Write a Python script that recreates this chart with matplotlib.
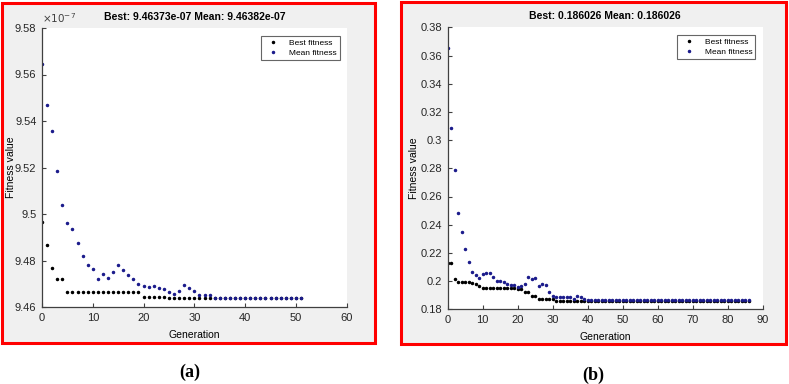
import matplotlib.pyplot as plt
from matplotlib.patches import Rectangle
from matplotlib.ticker import FormatStrFormatter

# panel (a): fitness values in units of 1e-7
gen_a = list(range(52))
best_a = [9.4964, 9.4867, 9.4766, 9.4719, 9.4719] + [9.4663] * 15 + [9.4643] * 5 + [9.4637] * 27
mean_a = [9.5645, 9.5468, 9.5357, 9.5184, 9.5039, 9.4960, 9.4934, 9.4874, 9.4819, 9.4781,
          9.4765, 9.4719, 9.4742, 9.4726, 9.4749, 9.4781, 9.4759, 9.4736, 9.4719, 9.4700,
          9.4690, 9.4685, 9.4692, 9.4680, 9.4679, 9.4663, 9.4657, 9.4670, 9.4695, 9.4680,
          9.4669, 9.4653, 9.4653, 9.4653] + [9.4640] * 18
title_a = "Best: 9.46373e-07 Mean: 9.46382e-07"

# panel (b)
gen_b = list(range(87))
best_b = [0.2130, 0.2130, 0.2015, 0.1995, 0.1995, 0.1995, 0.1995, 0.1988, 0.1982, 0.1968,
          0.1953] + [0.1949] * 9 + [0.1944, 0.1944, 0.1925, 0.1923, 0.1894, 0.1894,
          0.1873, 0.1873, 0.1873, 0.1873, 0.1873] + [0.1862] * 56
mean_b = [0.3655, 0.3086, 0.2790, 0.2485, 0.2346, 0.2225, 0.2133, 0.2065, 0.2041, 0.2024,
          0.2048, 0.2057, 0.2057, 0.2031, 0.2003, 0.2003, 0.1996, 0.1977, 0.1972, 0.1970,
          0.1956, 0.1967, 0.1977, 0.2027, 0.2015, 0.2020, 0.1967, 0.1979, 0.1972, 0.1925,
          0.1897, 0.1889, 0.1885, 0.1885, 0.1885, 0.1885, 0.1873, 0.1894, 0.1885, 0.1870] + [0.1866] * 47
title_b = "Best: 0.186026 Mean: 0.186026"

W, H = 789, 384
plt.rcParams["font.family"] = ["Liberation Sans", "DejaVu Sans"]

fig = plt.figure(figsize=(W / 100, H / 100), dpi=100)
fig.patch.set_facecolor("white")


def px_box(x0, y0, x1, y1):
    return [x0 / W, 1 - y1 / H, (x1 - x0) / W, (y1 - y0) / H]


# red frames with matlab grey background
for x0, y0, x1, y1 in [(2, 3, 375, 343), (401, 2, 786, 344)]:
    fig.add_artist(Rectangle((x0 / W, 1 - y1 / H), (x1 - x0) / W, (y1 - y0) / H,
                             transform=fig.transFigure, facecolor="#f0f0f0",
                             edgecolor="#ff0000", lw=2.2, zorder=0))


def draw_panel(rect, gens, best, mean, title, xlim, xstep, ylim, ystep, ylab_x):
    ax = fig.add_axes(rect)
    ax.set_facecolor("white")
    ax.plot(gens, best, ".", color="black", ms=3.0, label="Best fitness")
    ax.plot(gens, mean, ".", color="#1c1c8c", ms=3.0, label="Mean fitness")
    ax.set_xlim(*xlim)
    ax.set_ylim(*ylim)
    ax.set_xticks([xlim[0] + i * xstep for i in range(int(round((xlim[1] - xlim[0]) / xstep)) + 1)])
    n = int(round((ylim[1] - ylim[0]) / ystep))
    ax.set_yticks([ylim[0] + i * ystep for i in range(n + 1)])
    ax.yaxis.set_major_formatter(FormatStrFormatter("%g"))
    for s in ["top", "right"]:
        ax.spines[s].set_visible(False)
    for s in ["left", "bottom"]:
        ax.spines[s].set_color("#404040")
        ax.spines[s].set_linewidth(0.9)
    ax.tick_params(direction="in", length=3, width=0.8, colors="#404040",
                   labelsize=8, labelcolor="#262626", pad=4)
    ax.set_title(title, fontsize=7.5, fontweight="bold", pad=6)
    ax.set_xlabel("Generation", fontsize=7.5, labelpad=5)
    ax.set_ylabel("Fitness value", fontsize=7.5)
    ax.yaxis.set_label_coords(ylab_x, 0.5)
    leg = ax.legend(loc="upper right", bbox_to_anchor=(0.977, 0.972), borderaxespad=0,
                    fontsize=6, frameon=True, fancybox=False, markerscale=1.0,
                    handlelength=2.2, borderpad=0.35, labelspacing=0.3)
    leg.get_frame().set_edgecolor("#404040")
    leg.get_frame().set_linewidth(0.8)
    return ax


ax_a = draw_panel(px_box(42, 28, 346.7, 307), gen_a, best_a, mean_a, title_a,
                  (0, 60), 10, (9.46, 9.58), 0.02, -0.085)
ax_a.text(0.0, 1.01, r"$\times10^{-7}$", transform=ax_a.transAxes, fontsize=7.5,
          color="#404040", ha="left", va="bottom")

ax_b = draw_panel(px_box(447.7, 27.3, 762.7, 309.3), gen_b, best_b, mean_b, title_b,
                  (0, 90), 10, (0.18, 0.38), 0.02, -0.092)

fig.text(190 / W, 1 - 372 / H, "(a)", family="Liberation Serif", fontweight="bold",
         fontsize=13, ha="center", va="center")
fig.text(593 / W, 1 - 375 / H, "(b)", family="Liberation Serif", fontweight="bold",
         fontsize=13, ha="center", va="center")

fig.savefig("out.png", dpi=100)
